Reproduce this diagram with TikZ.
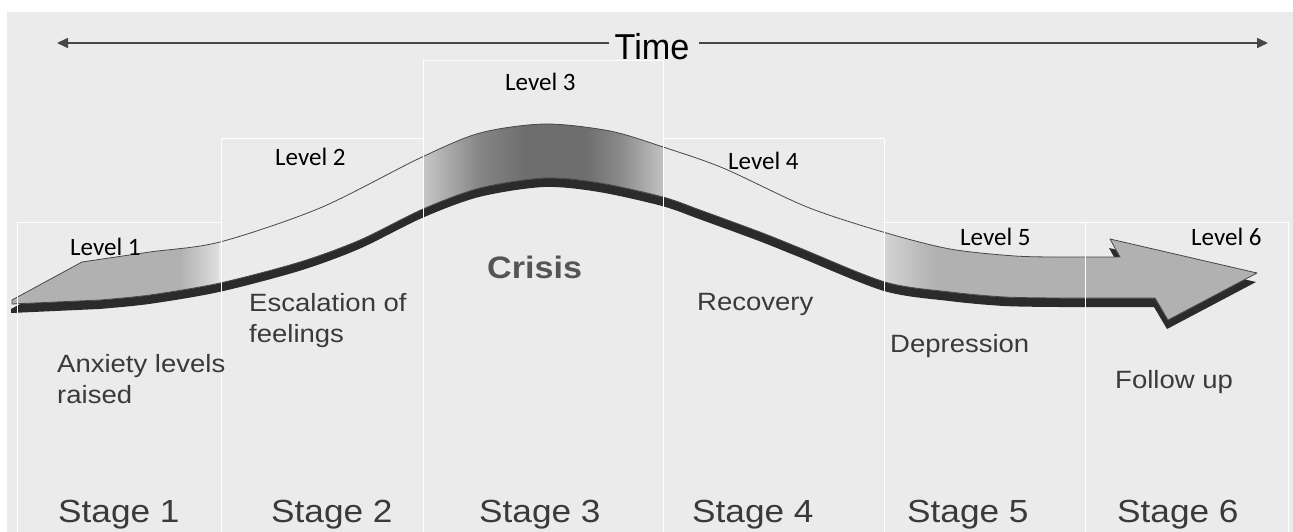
\documentclass[tikz,border=0pt]{standalone}
\usepackage{fontspec}
\setmainfont{Liberation Sans}
\newfontfamily\widef{Liberation Sans}[FakeStretch=1.1]
\newfontfamily\calib{Carlito}
\newfontfamily\narrowf{Liberation Sans}[FakeStretch=0.95]
\usetikzlibrary{arrows.meta}
\definecolor{bg}{HTML}{EBEBEB}
\definecolor{agray}{HTML}{B1B1B1}
\definecolor{shadowc}{HTML}{2B2B2B}
\definecolor{outl}{HTML}{474747}
\definecolor{txt}{HTML}{3A3A3A}
\definecolor{crisisc}{HTML}{555555}
\begin{document}
\begin{tikzpicture}[x=1pt,y=-1pt,
  stagebox/.style={draw=white, line width=1.4pt, inner sep=0pt, anchor=north west},
  stagelbl/.style={anchor=base west, text=txt, font=\widef\fontsize{32}{36}\selectfont, inner sep=0pt},
  levellbl/.style={anchor=base west, text=black, font=\calib\fontsize{25}{28}\selectfont, inner sep=0pt},
  desc/.style={anchor=base west, text=txt, font=\widef\fontsize{25}{31}\selectfont, inner sep=0pt, align=left},
  timeline/.style={draw=outl, line width=1.6pt, -{Triangle[length=11pt,width=10pt]}}
]
\useasboundingbox (0,0) rectangle (1293,532);
\fill[white] (0,0) rectangle (1293,532);
\fill[bg] (7,12) rectangle (1293,532);

% ---------- arrow band ----------
\def\arrowpath{(12,300) -- (82,262) -- plot[smooth] coordinates {(82,262) (150,252) (220,242) (320,208) (420,158) (480,133) (545,124) (610,131) (663,147) (723,168) (807,207) (883,232) (950,249) (1015,256) (1060,257)}
  -- (1120,257) -- (1110,239) -- (1257,273) -- (1168,320) -- (1155,298) -- (1060,298)
  -- plot[smooth] coordinates {(1060,298) (1005,297) (950,292) (885,282) (800,248) (760,232) (700,210) (663,197) (600,183) (545,178) (480,188) (423,209) (360,240) (300,262) (220,283) (150,295) (100,300)}
  -- (12,304) -- cycle}
\fill[shadowc, shift={(-1,9)}] \arrowpath;
\fill[bg] \arrowpath;
\begin{scope}
  \clip \arrowpath;
  \fill[agray] (0,100) rectangle (180,400);
  \shade[left color=agray, right color=bg!80!agray] (180,100) rectangle (219,400);
  \shade[left color=black!22, right color=black!48] (423,100) rectangle (480,400);
  \shade[left color=black!48, right color=black!57] (480,100) rectangle (525,400);
  \fill[black!57] (525,100) rectangle (585,400);
  \shade[left color=black!57, right color=black!46] (585,100) rectangle (620,400);
  \shade[left color=black!46, right color=black!24] (620,100) rectangle (663,400);
  \shade[left color=bg!60!agray, right color=agray] (884,100) rectangle (935,400);
  \fill[agray] (935,100) rectangle (1300,400);
\end{scope}
\draw[outl, line width=0.8pt, line join=round] \arrowpath;

% ---------- stage boxes ----------
\node[stagebox, minimum width=204pt, minimum height=315pt] (s1) at (17,222) {};
\node[stagebox, minimum width=202pt, minimum height=399pt] (s2) at (221,138) {};
\node[stagebox, minimum width=240pt, minimum height=477pt] (s3) at (423,60) {};
\node[stagebox, minimum width=221pt, minimum height=399pt] (s4) at (663,138) {};
\node[stagebox, minimum width=201pt, minimum height=315pt] (s5) at (884,222) {};
\node[stagebox, minimum width=203pt, minimum height=315pt] (s6) at (1085,222) {};

% ---------- time arrow ----------
\node[text=black, font=\narrowf\fontsize{36}{40}\selectfont, inner sep=0pt] (time) at (652,47) {Time};
\coordinate (tl) at (57,43);
\coordinate (tr) at (1268,43);
\draw[timeline] ([xshift=-5pt]time.west |- tl) -- (tl);
\draw[timeline] ([xshift=9pt]time.east |- tr) -- (tr);

% ---------- stage labels ----------
\node[stagelbl] (st1) at (58,522) {Stage 1};
\node[stagelbl] (st2) at (271,522) {Stage 2};
\node[stagelbl] (st3) at (479,522) {Stage 3};
\node[stagelbl] (st4) at (692,522) {Stage 4};
\node[stagelbl] (st5) at (907,522) {Stage 5};
\node[stagelbl] (st6) at (1117,522) {Stage 6};

% ---------- level labels ----------
\node[levellbl] (l1) at (70,255) {Level 1};
\node[levellbl] (l2) at (275,165) {Level 2};
\node[levellbl] (l3) at (505,91) {Level 3};
\node[levellbl] (l4) at (728,169) {Level 4};
\node[levellbl] (l5) at (960,245) {Level 5};
\node[levellbl] (l6) at (1191,245) {Level 6};

% ---------- descriptions ----------
\node[text=crisisc, anchor=base west, inner sep=0pt, font=\widef\bfseries\fontsize{31}{34}\selectfont] (crisis) at (487,278) {Crisis};
\node[desc] (d1) at (57,403) {Anxiety levels\\raised};
\node[desc] (d2) at (249,342) {Escalation of\\feelings};
\node[desc] (d4) at (697,310) {Recovery};
\node[desc] (d5) at (890,352) {Depression};
\node[desc] (d6) at (1115,388) {Follow up};
\end{tikzpicture}
\end{document}
